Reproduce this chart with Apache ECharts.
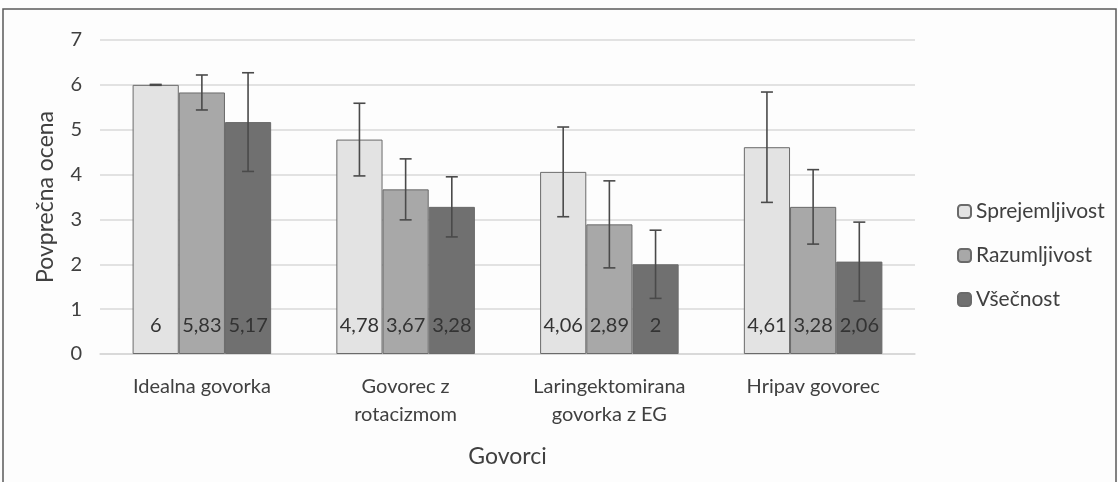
<!DOCTYPE html>
<head>
    <title>ECharts</title>
    <meta charset="UTF-8">
    <style>
        html, body { margin: 0; padding: 0; background: #fff; }
    </style>
</head>
<body>
    <div id="main" style="width:1118px;height:482px;"></div>

    <script src="https://cdn.jsdelivr.net/npm/echarts@6/dist/echarts.min.js"></script>
    <script type="text/javascript">
    // podatki
    var kategorije = ['Idealna govorka', 'Govorec z\nrotacizmom', 'Laringektomirana\ngovorka z EG', 'Hripav govorec'];
    var imenaSerij = ['Sprejemljivost', 'Razumljivost', 'Všečnost'];
    var sprejemljivost = [6, 4.78, 4.06, 4.61];
    var razumljivost = [5.83, 3.67, 2.89, 3.28];
    var vsecnost = [5.17, 3.28, 2, 2.06];
    // standardni odkloni (odčitani s slike)
    var napakaSprej = [0.01, 0.81, 1.0, 1.23];
    var napakaRazum = [0.39, 0.68, 0.97, 0.83];
    var napakaVsec = [1.1, 0.67, 0.76, 0.88];

    var barve = ['#e3e3e3', '#a8a8a8', '#707070'];
    var vrzel = 0.32;
    var pisava = 'Lato';

    var vrednosti = [sprejemljivost, razumljivost, vsecnost];
    var napake = [napakaSprej, napakaRazum, napakaVsec];

    var napakeData = [];
    for (var s = 0; s < 3; s++) {
        for (var i = 0; i < kategorije.length; i++) {
            napakeData.push([i, vrednosti[s][i], napake[s][i], s]);
        }
    }

    var myChart = echarts.init(document.getElementById('main'));

    var series = imenaSerij.map(function (ime, s) {
        return {
            name: ime,
            type: 'bar',
            data: vrednosti[s],
            barGap: 0,
            barCategoryGap: (vrzel * 100) + '%',
            itemStyle: { color: barve[s], borderColor: '#6a6a6a', borderWidth: 1 },
            label: {
                show: true,
                position: 'insideBottom',
                distance: 18,
                fontFamily: pisava,
                fontSize: 20,
                color: '#333',
                formatter: function (p) { return String(p.value).replace('.', ','); }
            },
            emphasis: { disabled: true }
        };
    });

    series.push({
        type: 'custom',
        name: 'napake',
        data: napakeData,
        z: 10,
        silent: true,
        renderItem: function (params, api) {
            var kat = api.value(0);
            var sred = api.value(1);
            var err = api.value(2);
            var s = api.value(3);
            var pas = api.size([1, 0])[0];
            var sirina = pas * (1 - vrzel) / 3;
            var x = api.coord([kat, 0])[0] + (s - 1) * sirina;
            var zg = api.coord([kat, sred + err])[1];
            var sp = api.coord([kat, sred - err])[1];
            var kapa = 6;
            var slog = { stroke: '#4a4a4a', lineWidth: 1.6 };
            return {
                type: 'group',
                children: [
                    { type: 'line', shape: { x1: x, y1: zg, x2: x, y2: sp }, style: slog },
                    { type: 'line', shape: { x1: x - kapa, y1: zg, x2: x + kapa, y2: zg }, style: slog },
                    { type: 'line', shape: { x1: x - kapa, y1: sp, x2: x + kapa, y2: sp }, style: slog }
                ]
            };
        }
    });

    var option = {
        backgroundColor: '#fdfdfd',
        animation: false,
        textStyle: { fontFamily: pisava },
        graphic: [{
            type: 'rect',
            shape: { x: 3, y: 9, width: 1113, height: 490 },
            style: { fill: 'none', stroke: '#5a5a5a', lineWidth: 1.5 },
            silent: true
        }],
        grid: { left: 100, right: 203, top: 40, bottom: 128 },
        legend: {
            orient: 'vertical',
            left: 952,
            top: 196,
            itemGap: 23,
            itemWidth: 13,
            itemHeight: 13,
            data: imenaSerij,
            textStyle: { fontFamily: pisava, fontSize: 21, color: '#404040' }
        },
        xAxis: {
            type: 'category',
            data: kategorije,
            name: 'Govorci',
            nameLocation: 'middle',
            nameGap: 91,
            nameTextStyle: { fontFamily: pisava, fontSize: 23, color: '#404040' },
            axisLine: { lineStyle: { color: '#d6d6d6', width: 1.5 } },
            axisTick: { show: false },
            axisLabel: { fontFamily: pisava, fontSize: 20, color: '#404040', margin: 19, lineHeight: 28, interval: 0 }
        },
        yAxis: {
            type: 'value',
            min: 0,
            max: 7,
            interval: 1,
            name: 'Povprečna ocena',
            nameLocation: 'middle',
            nameGap: 43,
            nameTextStyle: { fontFamily: pisava, fontSize: 23, color: '#404040' },
            axisLine: { show: false },
            axisTick: { show: false },
            splitLine: { lineStyle: { color: '#d9d9d9', width: 1.5 } },
            axisLabel: { fontFamily: pisava, fontSize: 20, color: '#404040', margin: 18 }
        },
        series: series
    };

    myChart.setOption(option);

    window.addEventListener('resize', function () {
        setTimeout(function () { myChart.resize(); }, 500);
    });
    </script>
</body>
